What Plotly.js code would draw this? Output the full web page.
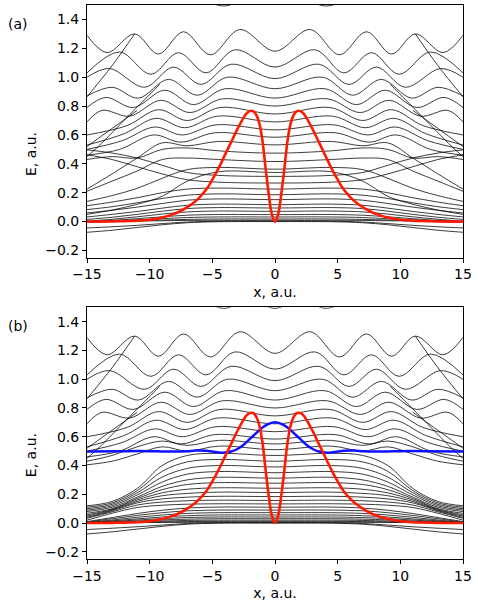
<!DOCTYPE html>
<html><head><meta charset="utf-8">
<script src="https://cdn.plot.ly/plotly-3.0.1.min.js"></script>
<style>html,body{margin:0;padding:0;background:#fff}#chart{width:478px;height:612px}</style>
</head><body><div id="chart"></div>
<script>
// All curves are symmetric in x: values are read for x >= 0 and mirrored to x < 0.
// Upper wavy levels (shared by both panels): x of extrema / read points, and E values
const U1x = [0,2.8,5.15,7.3,9.3,11.2,13.4,15];
const U1y = [1.18,1.33,1.155,1.315,1.16,1.30,1.17,1.29];
const U2x = [0,3.2,5.5,7.7,9.9,12.4,15];
const U2y = [1.07,1.19,1.03,1.17,1.02,1.175,1.03];
const U3x = [0,3.5,5.9,8.1,10.4,13.2,15];
const U3y = [0.99,1.09,0.95,1.07,0.93,1.06,1.0];
const U4x = [0,3.8,6.2,8.5,10.9,13.0,15];
const U4y = [0.92,1.0,0.875,0.985,0.855,0.93,0.87];
const U5x = [0,4.0,6.5,8.8,11.3,13.5,15];
const U5y = [0.855,0.92,0.81,0.91,0.79,0.86,0.79];
const U6x = [0,4.2,6.8,9.1,11.6,13.8,15];
const U6y = [0.80,0.85,0.755,0.84,0.73,0.77,0.69];
const U7x = [0,4.4,7.0,9.3,11.8,15];
const U7y = [0.745,0.79,0.70,0.775,0.665,0.60];
const U8x = [0,4.6,7.2,9.5,12.0,15];
const U8y = [0.69,0.73,0.65,0.715,0.61,0.53];
const U9x = [0,4.7,7.4,9.6,12.2,15];
const U9y = [0.635,0.67,0.60,0.655,0.56,0.50];
const U10x = [0,4.8,7.5,9.7,12.4,15];
const U10y = [0.584,0.615,0.55,0.60,0.50,0.46];
// straight crossing lines near the edges
const DDx = [11.2,13,15];  const DDy = [1.30,1.08,0.864];
const DAx = [9.2,11.6,14.1,15]; const DAy = [0.95,0.74,0.52,0.45];
const DEx = [11,13,15];    const DEy = [0.77,0.645,0.52];
// faint level just under the top frame
const TAx = [0,2,4.1,6,8];   const TAy = [1.56,1.55,1.493,1.55,1.64];
const TBx = [0,2,4.1,6,8];   const TBy = [1.493,1.55,1.493,1.56,1.64];

// lower levels, read at these x
const XL = [0,4.5,7,9,11,13,15];
// panel (a)
const aR11 = [0.531,0.555,0.525,0.545,0.44,0.33,0.225];
const aL1  = [0.474,0.49,0.51,0.50,0.44,0.45,0.43];
const aL2  = [0.416,0.43,0.44,0.43,0.35,0.28,0.21];
const aL3  = [0.363,0.375,0.36,0.30,0.23,0.18,0.14];
const aC   = [0.34,0.345,0.28,0.175,0.12,0.08,0.05];
const aUp1 = [0.313,0.32,0.34,0.39,0.44,0.475,0.497];
const aUp2 = [0.267,0.273,0.29,0.33,0.38,0.43,0.462];
const aL6  = [0.225,0.232,0.225,0.20,0.165,0.135,0.11];
const aL7  = [0.186,0.192,0.183,0.16,0.13,0.103,0.083];
const aL8  = [0.152,0.157,0.148,0.125,0.10,0.078,0.06];
const aL9  = [0.117,0.121,0.113,0.093,0.07,0.05,0.032];
const aL10 = [0.094,0.097,0.09,0.072,0.05,0.03,0.015];
const aL11 = [0.071,0.073,0.067,0.052,0.033,0.016,0.003];
const aL12 = [0.048,0.049,0.044,0.033,0.02,0.008,0];
const aL13 = [0.032,0.032,0.028,0.02,0.012,0.005,0];
const aL14 = [0.018,0.018,0.015,0.011,0.007,0.003,0];
const aL15 = [0.009,0.009,0.008,0.006,0.004,0.002,0];
const aB1  = [0.004,0.003,-0.003,-0.014,-0.026,-0.036,-0.044];
const aB2  = [0,-0.001,-0.008,-0.022,-0.041,-0.06,-0.074];
// panel (b)
const bL1  = [0.55,0.575,0.54,0.57,0.53,0.47,0.43];
const bL2  = [0.51,0.535,0.50,0.53,0.48,0.43,0.405];
const bL3  = [0.47,0.485,0.47,0.40,0.24,0.15,0.12];
const bL4  = [0.43,0.442,0.425,0.36,0.225,0.14,0.11];
const bL5  = [0.39,0.40,0.38,0.32,0.21,0.13,0.10];
const bL6  = [0.35,0.358,0.34,0.285,0.195,0.12,0.09];
const bL7  = [0.312,0.318,0.30,0.255,0.18,0.11,0.08];
const bL8  = [0.277,0.281,0.268,0.232,0.17,0.10,0.068];
const bL9  = [0.242,0.245,0.235,0.21,0.16,0.095,0.057];
const bL10 = [0.212,0.215,0.206,0.19,0.15,0.09,0.048];
const bL11 = [0.184,0.186,0.18,0.168,0.14,0.085,0.04];
const bL12 = [0.157,0.159,0.155,0.146,0.125,0.078,0.033];
const bL13 = [0.133,0.134,0.131,0.124,0.108,0.068,0.02];
const bL14 = [0.11,0.111,0.104,0.089,0.066,0.038,0.01];
const bL15 = [0.09,0.09,0.085,0.072,0.053,0.03,0.006];
const bL16 = [0.072,0.072,0.067,0.056,0.04,0.021,0.003];
const bL17 = [0.056,0.056,0.051,0.042,0.029,0.015,0.001];
const bL18 = [0.042,0.042,0.038,0.031,0.021,0.01,0];
const bL19 = [0.03,0.03,0.027,0.022,0.014,0.006,0];
const bL20 = [0.02,0.02,0.018,0.014,0.008,0.003,0];
const bL21 = [0.012,0.012,0.01,0.008,0.005,0.002,0];
const bL22 = [0.006,0.006,0.005,0.004,0.003,0.001,0];
const bB1  = [0.002,0.002,-0.003,-0.014,-0.026,-0.036,-0.045];
const bB2  = [0,-0.001,-0.008,-0.023,-0.042,-0.061,-0.076];

// red potential (both panels)
const redX = [0,0.25,0.5,0.75,1,1.25,1.5,1.75,2,2.25,2.5,3,3.5,4,4.5,5,5.5,6,6.5,7,7.5,8,9,10,11,12,13,14,15];
const redV = [0,0.05,0.19,0.37,0.56,0.68,0.74,0.765,0.765,0.75,0.72,0.64,0.55,0.46,0.37,0.29,0.22,0.17,0.13,0.10,0.075,0.055,0.028,0.013,0.006,0.003,0.001,0,0];
// blue curve (panel b)
const blueX = [0,0.5,1,1.5,2,2.5,3,3.5,4,4.5,5,5.5,6,6.5,7,8,9,10,12,15];
const blueV = [0.70,0.69,0.665,0.625,0.585,0.545,0.515,0.497,0.49,0.491,0.497,0.502,0.505,0.503,0.50,0.497,0.498,0.5,0.5,0.497];

const upperPairs = [[U1x,U1y],[U2x,U2y],[U3x,U3y],[U4x,U4y],[U5x,U5y],[U6x,U6y],[U7x,U7y],[U8x,U8y],[U9x,U9y],[U10x,U10y],[DDx,DDy],[DAx,DAy],[DEx,DEy]];
const lowerA = [aR11,aL1,aL2,aL3,aC,aUp1,aUp2,aL6,aL7,aL8,aL9,aL10,aL11,aL12,aL13,aL14,aL15,aB1,aB2];
const lowerB = [bL1,bL2,bL3,bL4,bL5,bL6,bL7,bL8,bL9,bL10,bL11,bL12,bL13,bL14,bL15,bL16,bL17,bL18,bL19,bL20,bL21,bL22,bB1,bB2];

function mirror(xs, ys){
  const X=[],Y=[];
  for(let i=xs.length-1;i>=0;i--){ if(xs[i]!==0){X.push(-xs[i]);Y.push(ys[i]);} }
  if(xs[0]!==0){ X.push(null); Y.push(null); }
  for(let i=0;i<xs.length;i++){X.push(xs[i]);Y.push(ys[i]);}
  return {X,Y};
}
const blackLine = {color:'rgba(0,0,0,0.85)', width:0.9, shape:'spline', smoothing:1};
const traces = [];
function addBlack(xs, ys, xa, ya){
  const m = mirror(xs, ys);
  traces.push({x:m.X, y:m.Y, xaxis:xa, yaxis:ya, mode:'lines', line:blackLine, connectgaps:false, hoverinfo:'skip', showlegend:false});
}
upperPairs.forEach(p=>{ addBlack(p[0],p[1],'x','y'); addBlack(p[0],p[1],'x2','y2'); });
addBlack(TAx,TAy,'x','y'); addBlack(TBx,TBy,'x2','y2');
lowerA.forEach(r=>addBlack(XL,r,'x','y'));
lowerB.forEach(r=>addBlack(XL,r,'x2','y2'));
const rm = mirror(redX, redV);
const bm = mirror(blueX, blueV);
traces.push({x:bm.X, y:bm.Y, xaxis:'x2', yaxis:'y2', mode:'lines', line:{color:'#1010ff', width:2.5, shape:'spline'}, showlegend:false});
traces.push({x:rm.X, y:rm.Y, xaxis:'x', yaxis:'y', mode:'lines', line:{color:'#ff1a00', width:2.6, shape:'spline'}, showlegend:false});
traces.push({x:rm.X, y:rm.Y, xaxis:'x2', yaxis:'y2', mode:'lines', line:{color:'#ff1a00', width:2.6, shape:'spline'}, showlegend:false});

const font = {family:'DejaVu Sans, sans-serif', size:14, color:'#000'};
const xTicks = [-15,-10,-5,0,5,10,15];
const yTicks = [-0.2,0,0.2,0.4,0.6,0.8,1.0,1.2,1.4];
function xAx(anchor){return {domain:[0,1], range:[-15,15], anchor:anchor, tickvals:xTicks, ticks:'outside', ticklen:4, tickcolor:'#000',
  showline:true, mirror:true, linecolor:'#000', linewidth:1, showgrid:false, zeroline:false, tickfont:font,
  title:{text:'x, a.u.', font:font, standoff:5}};}
function yAx(dom, anchor){return {domain:dom, range:[-0.25,1.5], anchor:anchor, tickvals:yTicks, tickformat:'.1f', ticks:'outside', ticklen:4, tickcolor:'#000',
  showline:true, mirror:true, linecolor:'#000', linewidth:1, showgrid:false, zeroline:false, tickfont:font};}
const layout = {
  width:478, height:612, margin:{l:87, r:15, t:5, b:53}, paper_bgcolor:'#fff', plot_bgcolor:'#fff', font:font,
  xaxis:xAx('y'), yaxis:yAx([0.5439,1],'x'),
  xaxis2:xAx('y2'), yaxis2:yAx([0,0.4543],'x2'),
  annotations:[
    {text:'(a)', xref:'paper', yref:'paper', x:-0.215, y:0.965, xanchor:'left', yanchor:'middle', showarrow:false, font:font},
    {text:'(b)', xref:'paper', yref:'paper', x:-0.215, y:0.4206, xanchor:'left', yanchor:'middle', showarrow:false, font:font},
    {text:'E, a.u.', xref:'paper', yref:'paper', x:-0.147, y:0.7305, xanchor:'center', yanchor:'middle', textangle:-90, showarrow:false, font:font},
    {text:'E, a.u.', xref:'paper', yref:'paper', x:-0.147, y:0.187, xanchor:'center', yanchor:'middle', textangle:-90, showarrow:false, font:font}
  ]
};
Plotly.newPlot('chart', traces, layout, {staticPlot:true, displayModeBar:false});
</script></body></html>
